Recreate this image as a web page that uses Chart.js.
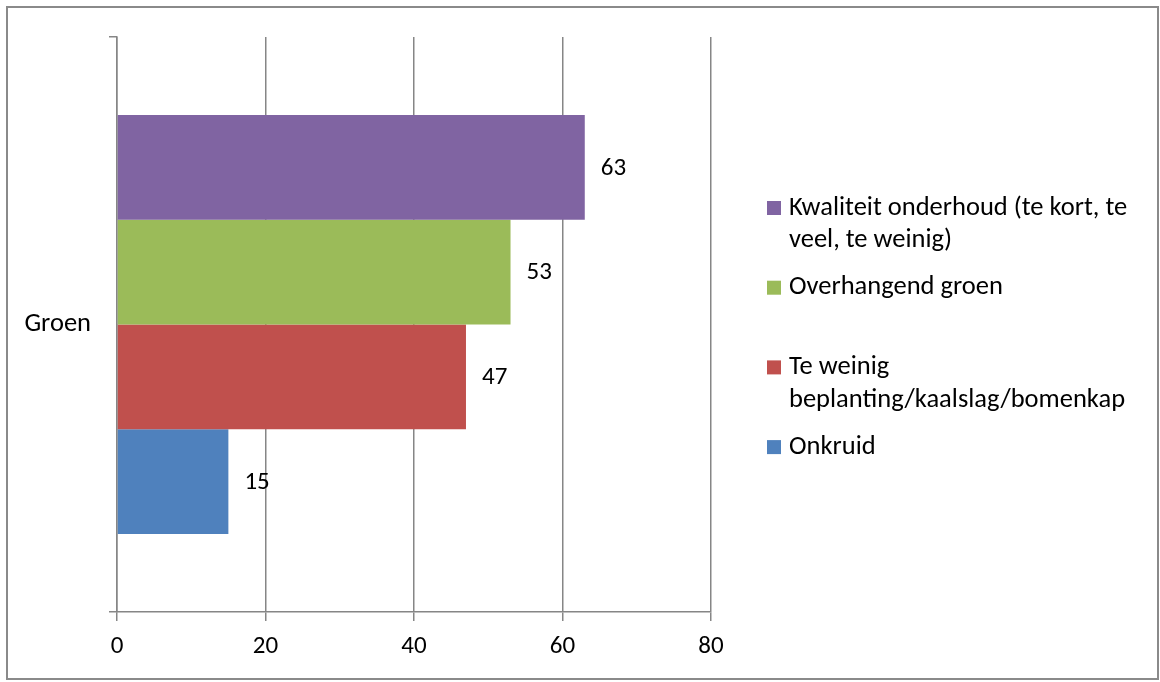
<!DOCTYPE html>
<html>
<head>
<meta charset="utf-8">
<script src="https://cdn.jsdelivr.net/npm/chart.js@4/dist/chart.umd.min.js"></script>
<style>
  html, body { margin: 0; padding: 0; background: #fff; }
  #wrap { position: relative; width: 1160px; height: 682px; }
</style>
</head>
<body>
<div id="wrap"><canvas id="c" width="1160" height="682"></canvas></div>
<script>
// Category and series
const categories = ['Groen'];
const seriesNames = [
  ['Kwaliteit onderhoud (te kort, te', 'veel, te weinig)'],
  ['Overhangend groen'],
  ['Te weinig', 'beplanting/kaalslag/bomenkap'],
  ['Onkruid']
];
const seriesValues = [63, 53, 47, 15];
const seriesColors = ['#8064A2', '#9BBB59', '#C0504D', '#4F81BD'];
const xTicks = [0, 20, 40, 60, 80];

const FONT = 'Carlito, Calibri, Lato, sans-serif';
const FS_NUM = 25;
const FS_TXT = 26.5;
const GRID = '#868686';

const datasets = seriesValues.map((v, i) => ({
  label: seriesNames[i].join(' '),
  data: [v],
  backgroundColor: seriesColors[i],
  borderWidth: 0,
  categoryPercentage: 0.729,
  barPercentage: 1.0
}));

// Value labels to the right of each bar
const valueLabels = {
  id: 'valueLabels',
  afterDatasetsDraw(chart) {
    const ctx = chart.ctx;
    ctx.save();
    ctx.font = FS_NUM + 'px ' + FONT;
    ctx.fillStyle = '#000';
    ctx.textAlign = 'left';
    ctx.textBaseline = 'middle';
    chart.data.datasets.forEach((ds, i) => {
      chart.getDatasetMeta(i).data.forEach((bar, j) => {
        ctx.fillText(String(ds.data[j]), bar.x + 16, bar.y + 1);
      });
    });
    ctx.restore();
  }
};

// Legend on the right with wrapped entries, plus the outer frame
const sideLegend = {
  id: 'sideLegend',
  afterDraw(chart) {
    const ctx = chart.ctx;
    ctx.save();
    ctx.font = FS_TXT + 'px ' + FONT;
    ctx.textAlign = 'left';
    ctx.textBaseline = 'middle';
    const boxX = 767, textX = 789, firstY = 208, step = 79.7, lineH = 32.5, box = 14;
    seriesNames.forEach((lines, i) => {
      const y = firstY + i * step;
      ctx.fillStyle = seriesColors[i];
      ctx.fillRect(boxX, y - box / 2, box, box);
      ctx.fillStyle = '#000';
      lines.forEach((t, k) => ctx.fillText(t, textX, y + k * lineH));
    });
    ctx.strokeStyle = '#8a8a8a';
    ctx.lineWidth = 2;
    ctx.strokeRect(7, 7, 1151, 672);
    ctx.restore();
  }
};

new Chart(document.getElementById('c'), {
  type: 'bar',
  data: { labels: categories, datasets },
  options: {
    indexAxis: 'y',
    responsive: false,
    animation: false,
    devicePixelRatio: 1,
    layout: { padding: { left: 0, top: 37, right: 449, bottom: 0 } },
    plugins: {
      legend: { display: false },
      tooltip: { enabled: false }
    },
    scales: {
      x: {
        min: 0,
        max: 80,
        afterBuildTicks(scale) { scale.ticks = xTicks.map(v => ({ value: v })); },
        afterFit(scale) { scale.height = 70; },
        grid: { color: GRID, lineWidth: 1.5, tickLength: 9, drawOnChartArea: true },
        border: { color: GRID, width: 1.5 },
        ticks: { color: '#000', font: { family: FONT, size: FS_NUM }, padding: 11 }
      },
      y: {
        afterFit(scale) { scale.width = 117; },
        grid: { color: GRID, lineWidth: 1.5, tickLength: 8, drawOnChartArea: false, offset: true },
        border: { color: GRID, width: 1.5 },
        ticks: { color: '#000', font: { family: FONT, size: FS_TXT }, padding: 18 }
      }
    }
  },
  plugins: [valueLabels, sideLegend]
});
</script>
</body>
</html>
